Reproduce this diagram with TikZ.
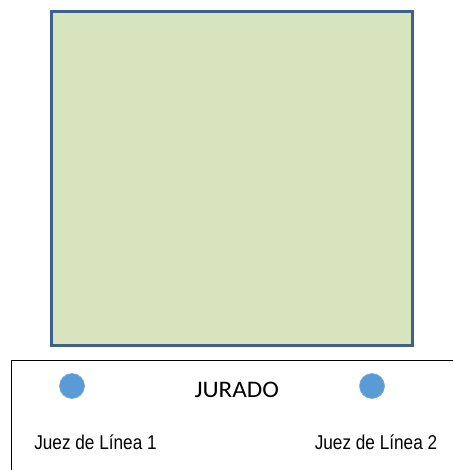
\documentclass[tikz,border=0pt]{standalone}
\usepackage{fontspec}
\setmainfont{Liberation Sans}
\newfontfamily\calfont{Carlito}
\definecolor{fieldgreen}{HTML}{D7E4BD}
\definecolor{fieldedge}{HTML}{3F5F8C}
\definecolor{judgeblue}{HTML}{5B9BD5}
\begin{document}
\begin{tikzpicture}[x=1pt,y=-1pt,
  judge/.style={circle,fill=judgeblue,draw=judgeblue!85!white,line width=0.6pt,minimum size=25pt,inner sep=0pt},
  lbl/.style={font=\fontsize{20}{22}\selectfont,xscale=0.86,transform shape,inner sep=0pt,anchor=base},
  jur/.style={font=\calfont\fontsize{23.7}{26}\selectfont,inner sep=0pt,anchor=base,xscale=1.06,transform shape}]
\useasboundingbox (0,0) rectangle (453,470);
\begin{scope}
\clip (0,0) rectangle (453,470);
\node[draw=black,line width=1.5pt,minimum width=460pt,minimum height=130pt,anchor=north west,inner sep=0pt] (panel) at (10.5,359.5) {};
\end{scope}
\node[draw=fieldedge,fill=fieldgreen,line width=3pt,minimum width=361pt,minimum height=333pt,inner sep=0pt,anchor=north west] (field) at (49.5,10.5) {};
\node[judge] (j1) at (72,386) {};
\node[judge] (j2) at (372,386) {};
\node[jur] (jurado) at (236.7,397.7) {JURADO};
\node[lbl] (l1) at (95.5,449.3) {Juez de Línea 1};
\node[lbl] (l2) at (376,449.3) {Juez de Línea 2};
\end{tikzpicture}
\end{document}
